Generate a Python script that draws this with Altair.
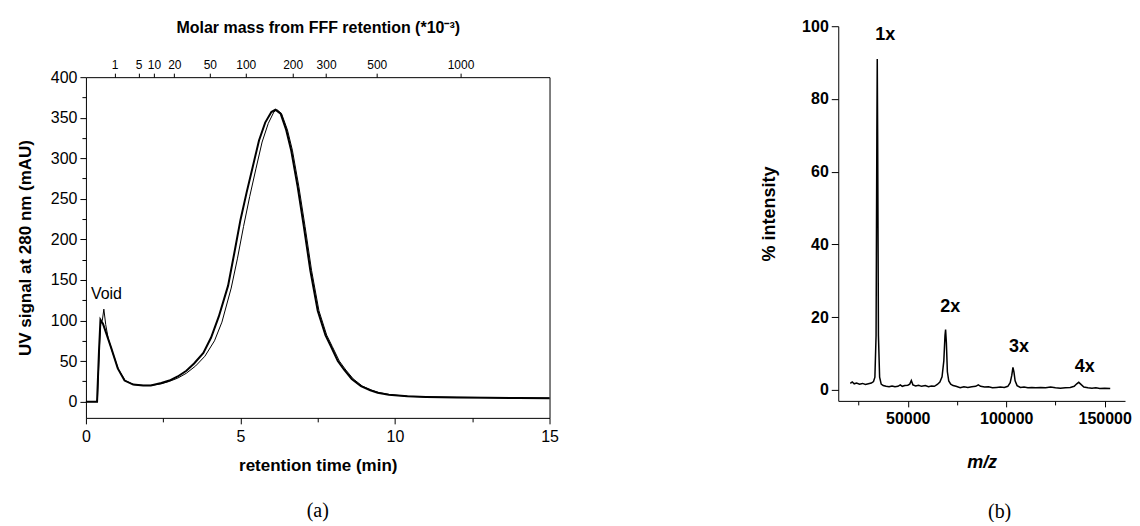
import altair as alt
import pandas as pd

FONT = "Liberation Sans"

# ---------------- Panel (a): FFF fractogram ----------------
t_a = [0, 0.36, 0.42, 0.47, 0.55, 0.65, 0.82, 1.03, 1.25, 1.53,
       1.85, 2.1, 2.44, 2.7, 2.97, 3.25, 3.5, 3.8, 4.05, 4.3,
       4.6, 4.8, 5.0, 5.2, 5.4, 5.6, 5.8, 6.0, 6.13, 6.3,
       6.48, 6.64, 6.85, 7.05, 7.26, 7.5, 7.75, 7.93, 8.15, 8.36,
       8.6, 8.9, 9.2, 9.44, 9.8, 10.4, 11.0, 12.0, 13.0, 14.0, 15.0]
uv_a = [0, 0, 60, 101, 96, 85, 66, 41, 26, 21,
        20, 20, 23, 26, 31, 38, 47, 60, 79, 105,
        143, 183, 224, 258, 290, 322, 344, 357, 360, 355,
        335, 310, 265, 216, 162, 112, 82, 68, 50, 39,
        28, 19, 14, 11, 8.5, 6.5, 5.8, 5.2, 4.8, 4.5, 4.3]

t_b = [0, 0.37, 0.44, 0.48, 0.53, 0.58, 0.64, 0.72, 0.85, 1.05,
       1.27, 1.55, 1.85, 2.1, 2.44, 2.7, 2.97, 3.25, 3.55, 3.85,
       4.16, 4.4, 4.7, 4.9, 5.1, 5.3, 5.5, 5.7, 5.9, 6.08,
       6.18, 6.33, 6.52, 6.68, 6.89, 7.09, 7.3, 7.54, 7.79, 7.97,
       8.2, 8.41, 8.65, 8.95, 9.25, 9.5, 9.85, 10.45, 11.0, 12.0,
       13.0, 14.0, 15.0]
uv_b = [0, 0, 70, 98, 100, 114, 95, 78, 62, 40,
        26, 21, 20, 20, 22, 25, 29, 35, 44, 56,
        75, 98, 140, 176, 216, 253, 287, 320, 343, 357,
        360, 355, 335, 310, 265, 216, 162, 112, 82, 68,
        50, 39, 28, 19, 14, 11, 8.5, 6.5, 5.9, 5.4,
        5.0, 4.6, 4.4]

mass_labels = ["1", "5", "10", "20", "50", "100", "200", "300", "500", "1000"]
mass_pos = [0.93, 1.70, 2.20, 2.86, 4.01, 5.17, 6.69, 7.77, 9.41, 12.12]

void_t = [0.16]
void_v = [133]
void_text = ["Void"]

x_ticks_a = [0, 2.5, 5, 7.5, 10, 12.5, 15]
y_ticks_a = list(range(0, 401, 25))

# ---------------- Panel (b): mass spectrum ----------------
mz = [20800, 21800, 22800, 24000, 25500, 27000, 28500, 30000, 31500, 32600,
      33300, 33900, 34300, 34500, 34700, 35100, 35700, 36500, 37500, 39000,
      40500, 42000, 43500, 45000, 46200, 47200, 48500, 50000, 51000, 51800,
      52600, 54000, 55500, 57000, 58900, 60500, 62000, 63500, 65000, 66300,
      67400, 68300, 68900, 69200, 69600, 70100, 70800, 71800, 73000, 74500,
      76600, 78500, 80500, 82500, 84500, 85800, 87000, 89000, 91000, 93000,
      95100, 97000, 99000, 100800, 102000, 102800, 103400, 103900, 104500, 105500,
      107200, 109000, 111000, 113000, 115000, 117500, 120000, 122500, 125000, 127500,
      130000, 132500, 134500, 135800, 136800, 137800, 139400, 141500, 143500, 145500,
      147500, 150000, 152800]
intensity = [1.8, 2.2, 1.7, 1.9, 1.6, 1.8, 1.5, 1.7, 1.9, 2.3,
             3.5, 15, 70, 91, 70, 15, 3.5, 1.6, 1.2, 1.0,
             0.9, 1.1, 0.9, 1.0, 1.4, 1.0, 1.2, 1.3, 1.6, 2.6,
             1.4, 1.1, 1.3, 1.0, 1.2, 0.9, 1.1, 1.0, 1.5, 2.2,
             3.6, 8, 15, 16.6, 13, 5, 2.5, 1.6, 1.2, 1.0,
             0.6, 0.9, 0.7, 0.9, 1.0, 1.4, 1.0, 0.8, 0.9, 0.6,
             0.7, 0.8, 0.7, 1.0, 2.0, 4.0, 6.2, 5.0, 2.5, 1.2,
             0.7, 0.8, 0.6, 0.7, 0.6, 0.7, 0.6, 0.8, 0.6, 0.5,
             0.6, 0.7, 1.0, 1.7, 2.1, 1.6, 0.8, 0.6, 0.5, 0.6,
             0.4, 0.5, 0.4]

peak_lbl = ["1x", "2x", "3x", "4x"]
peak_lbl_mz = [38600, 71600, 106500, 139800]
peak_lbl_val = [97.5, 22.9, 11.9, 6.4]

x_ticks_b = [25000, 50000, 75000, 100000, 125000, 150000]
y_ticks_b = list(range(0, 101, 10))

# ---------------- layout (pixels) ----------------
A_W, A_H = 464, 392      # panel (a) view, taller than its plot box
A_TOP = 51               # plot box of (a) starts this far below its view top
B_W, B_H = 287, 375

# ---------------- build panel (a) ----------------
df_a = pd.DataFrame({"t": t_a, "uv": uv_a})
df_b = pd.DataFrame({"t": t_b, "uv": uv_b})
df_void = pd.DataFrame({"t": void_t, "uv": void_v, "txt": void_text})


def xs():
    return alt.Scale(domain=[0, 15], nice=False, zero=False)


def ys():
    return alt.Scale(domain=[-20, 400], nice=False, zero=False, range=[A_H, A_TOP])


AX = dict(grid=False, domain=True, domainColor="black", domainWidth=1,
          tickColor="black", tickWidth=1, labelColor="black", titleColor="black",
          labelFont=FONT, titleFont=FONT, labelOverlap=False)

top_expr = "[" + ",".join("'%s'" % s for s in mass_labels) + "][indexof([" + \
    ",".join(str(v) for v in mass_pos) + "], datum.value)]"

line_a = alt.Chart(df_a).mark_line(color="black", strokeWidth=2).encode(
    x=alt.X("t:Q", scale=xs(), title="retention time (min)",
            axis=alt.Axis(values=x_ticks_a, orient="bottom",
                          labelExpr="datum.value % 5 === 0 ? datum.label : ''",
                          tickSize={"condition": {"test": "datum.value % 5 === 0", "value": 6}, "value": 4},
                          labelFontSize=16, labelPadding=5, titleFontSize=17,
                          titleFontWeight="bold", titlePadding=13,
                          labelFlush=False, **AX)),
    y=alt.Y("uv:Q", scale=ys(), title="UV signal at 280 nm (mAU)",
            axis=alt.Axis(values=y_ticks_a, orient="left",
                          labelExpr="datum.value % 50 === 0 ? datum.label : ''",
                          tickSize={"condition": {"test": "datum.value % 50 === 0", "value": 6}, "value": 4},
                          labelFontSize=16, labelPadding=3, titleFontSize=17,
                          titleFontWeight="bold", titlePadding=16, **AX)),
)

line_b = alt.Chart(df_b).mark_line(color="black", strokeWidth=1).encode(
    x=alt.X("t:Q", scale=xs(), title="Molar mass from FFF retention (*10⁻³)",
            axis=alt.Axis(values=mass_pos, orient="top", labelExpr=top_expr,
                          offset=-A_TOP,
                          tickSize=4, labelFontSize=12, labelPadding=2,
                          titleFontSize=16, titleFontWeight="bold", titlePadding=23,
                          labelFlush=False, **AX)),
    y=alt.Y("uv:Q", scale=ys(), axis=None),
)

void_lbl = alt.Chart(df_void).mark_text(align="left", baseline="middle", font=FONT,
                                         fontSize=16, color="black").encode(
    x=alt.X("t:Q", scale=xs(), axis=None),
    y=alt.Y("uv:Q", scale=ys(), title=None,
            axis=alt.Axis(orient="right", labels=False, ticks=False, **AX)),
    text="txt:N",
)

panel_a = alt.layer(line_a, line_b, void_lbl).resolve_scale(
    x="independent", y="independent"
).properties(
    width=A_W, height=A_H,
    title=alt.TitleParams("(a)", orient="bottom", font="Liberation Serif", fontSize=20,
                          fontWeight="normal", color="black", offset=27,
                          anchor="middle", frame="group"),
)

# ---------------- build panel (b) ----------------
df_ms = pd.DataFrame({"mz": mz, "i": intensity})
df_pk = pd.DataFrame({"mz": peak_lbl_mz, "i": peak_lbl_val, "txt": peak_lbl})

xb = alt.Scale(domain=[14700, 160300], nice=False, zero=False)
yb = alt.Scale(domain=[-3, 100], nice=False, zero=False)

ms_line = alt.Chart(df_ms).mark_line(color="black", strokeWidth=1.5).encode(
    x=alt.X("mz:Q", scale=xb, title="m/z",
            axis=alt.Axis(values=x_ticks_b, format="d",
                          labelExpr="datum.value % 50000 === 0 ? datum.label : ''",
                          tickSize={"condition": {"test": "datum.value % 50000 === 0", "value": 6}, "value": 4},
                          labelFontSize=16, labelFontWeight="bold", labelPadding=4,
                          titleFontSize=18, titleFontWeight="bold", titleFontStyle="italic",
                          titlePadding=27, labelFlush=False, **AX)),
    y=alt.Y("i:Q", scale=yb, title="% intensity",
            axis=alt.Axis(values=y_ticks_b,
                          labelExpr="datum.value % 20 === 0 ? datum.label : ''",
                          tickSize={"condition": {"test": "datum.value % 20 === 0", "value": 7}, "value": 5},
                          labelFontSize=16, labelFontWeight="bold", labelPadding=3,
                          titleFontSize=18, titleFontWeight="bold", titlePadding=23, **AX)),
)

pk_text = alt.Chart(df_pk).mark_text(align="center", baseline="middle", font=FONT,
                                      fontSize=18, fontWeight="bold", color="black").encode(
    x=alt.X("mz:Q", scale=xb),
    y=alt.Y("i:Q", scale=yb),
    text="txt:N",
)

panel_b = alt.layer(ms_line, pk_text).properties(
    width=B_W, height=B_H,
    title=alt.TitleParams("(b)", orient="bottom", font="Liberation Serif", fontSize=20,
                          fontWeight="normal", color="black", offset=30,
                          anchor="middle", frame="group", dx=18),
)

chart = alt.hconcat(panel_a, panel_b, spacing=202).properties(
    padding={"left": 8, "top": 10, "right": 0, "bottom": 0},
    background="white",
).configure_view(strokeWidth=0).configure_axis(grid=False)

chart.save("out.html", embed_options={"renderer": "svg", "actions": False})
